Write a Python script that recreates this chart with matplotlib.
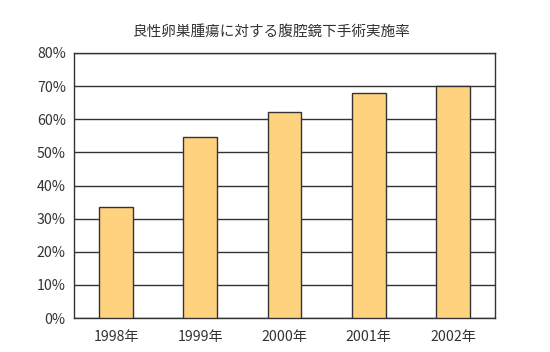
import matplotlib

matplotlib.use("Agg")
import matplotlib.pyplot as plt
from matplotlib.ticker import FuncFormatter

plt.rcParams["font.family"] = ["Noto Sans CJK JP", "DejaVu Sans"]

years = ["1998年", "1999年", "2000年", "2001年", "2002年"]
rates = [33.5, 54.7, 62.2, 68.0, 70.0]
y_ticks = [0, 10, 20, 30, 40, 50, 60, 70, 80]
title = "良性卵巣腫瘍に対する腹腔鏡下手術実施率"

text_color = "#333333"

fig = plt.figure(figsize=(5.5, 3.52), dpi=100)
ax = fig.add_axes([74 / 550, 1 - 318 / 352, 421 / 550, 265 / 352])

x = list(range(len(years)))
ax.bar(x, rates, width=0.4, color="#FFD27F", edgecolor="#333333", linewidth=1.0, zorder=3)

ax.set_xlim(-0.5, len(years) - 0.5)
ax.set_ylim(0, 80)
ax.set_yticks(y_ticks)
ax.yaxis.set_major_formatter(FuncFormatter(lambda v, p: f"{int(v)}%"))
ax.set_xticks(x)
ax.set_xticklabels(years)
ax.grid(axis="y", color="#333333", linewidth=1.0, zorder=1)
ax.tick_params(length=0, labelsize=10.2, colors=text_color)
ax.tick_params(axis="y", pad=6)
ax.tick_params(axis="x", pad=9)
for s in ax.spines.values():
    s.set_color("#333333")
    s.set_linewidth(1.0)

fig.text(272 / 550, 1 - 32 / 352, title, ha="center", va="center", fontsize=10.5, color=text_color)

fig.savefig("out.png", dpi=100)
